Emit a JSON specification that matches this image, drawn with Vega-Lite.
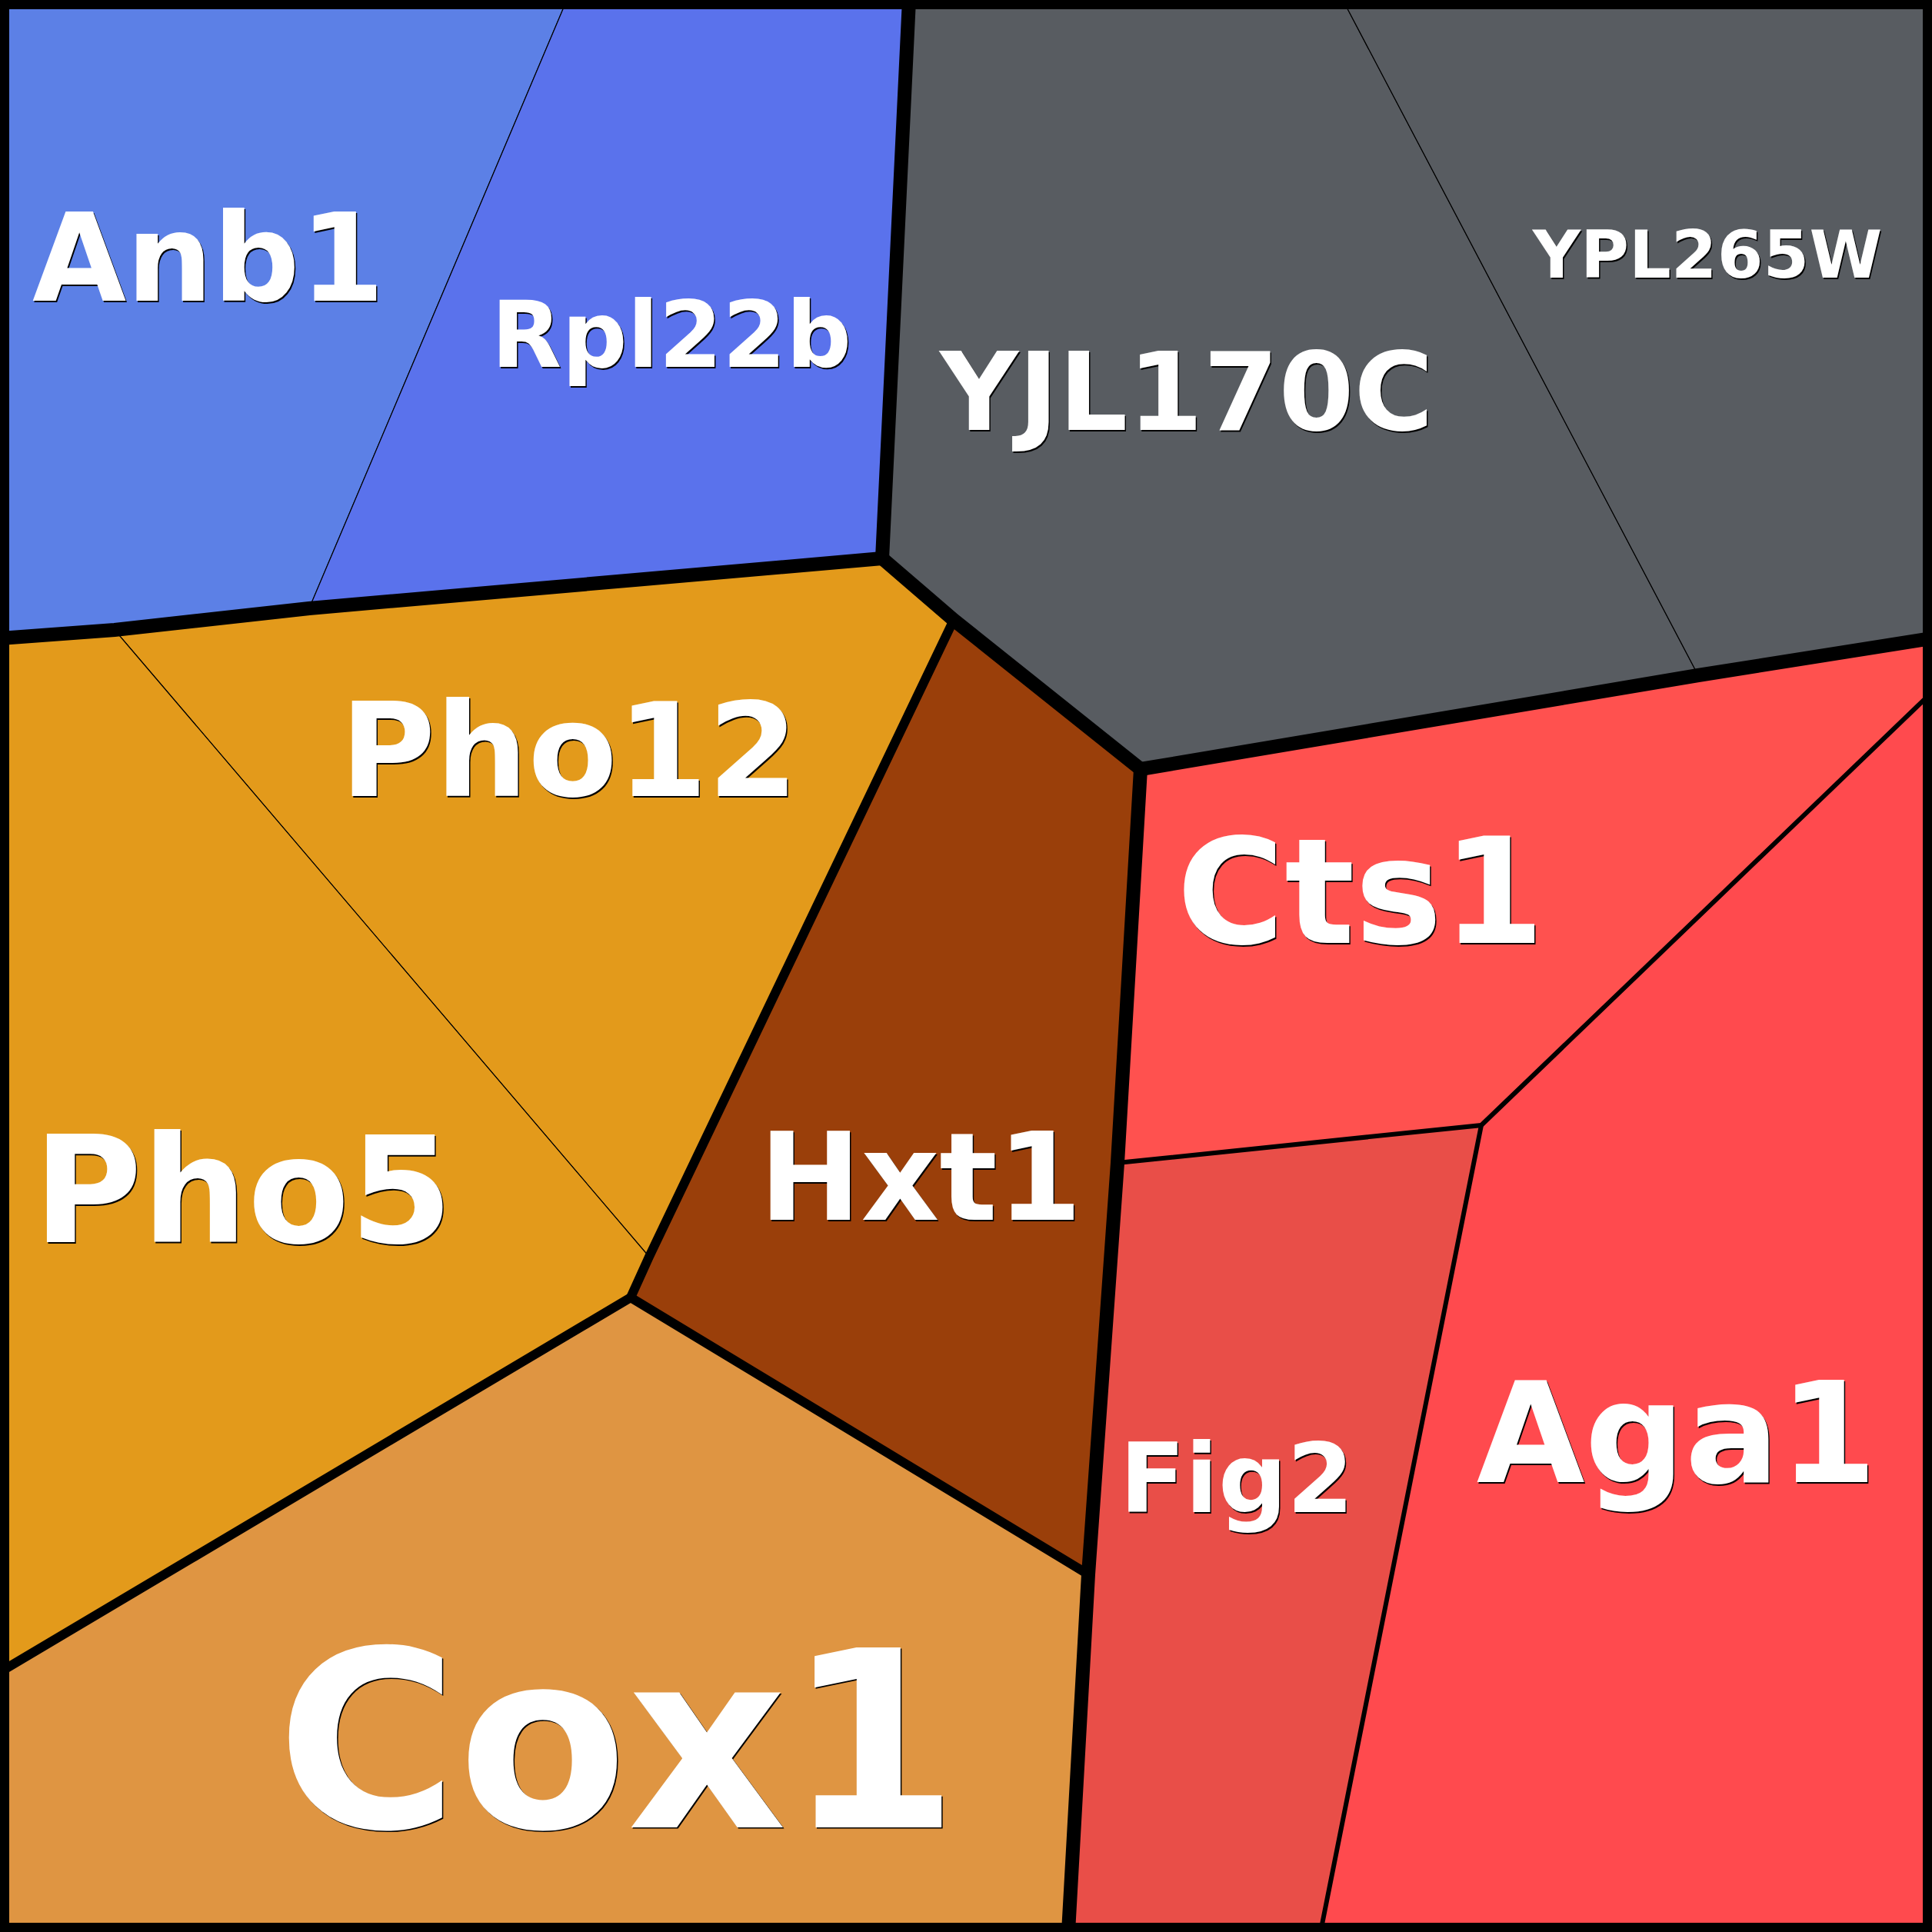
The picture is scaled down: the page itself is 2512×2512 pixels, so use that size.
{
  "$schema": "https://vega.github.io/schema/vega-lite/v6.json",
  "width": 2512,
  "height": 2512,
  "padding": 0,
  "autosize": {"type": "none"},
  "background": "white",
  "config": {"view": {"stroke": null}},
  "datasets": {
    "cells": [
      {"cell":"Anb1","i":0,"x":0,"y":0},{"cell":"Anb1","i":1,"x":737,"y":0},{"cell":"Anb1","i":2,"x":402,"y":791},{"cell":"Anb1","i":3,"x":149,"y":819},{"cell":"Anb1","i":4,"x":0,"y":830},
      {"cell":"Rpl22b","i":0,"x":737,"y":0},{"cell":"Rpl22b","i":1,"x":1182,"y":0},{"cell":"Rpl22b","i":2,"x":1147,"y":726},{"cell":"Rpl22b","i":3,"x":402,"y":791},
      {"cell":"YJL170C","i":0,"x":1182,"y":0},{"cell":"YJL170C","i":1,"x":1746,"y":0},{"cell":"YJL170C","i":2,"x":2208,"y":878},{"cell":"YJL170C","i":3,"x":1483,"y":1000},{"cell":"YJL170C","i":4,"x":1240,"y":806},{"cell":"YJL170C","i":5,"x":1147,"y":726},
      {"cell":"YPL265W","i":0,"x":1746,"y":0},{"cell":"YPL265W","i":1,"x":2512,"y":0},{"cell":"YPL265W","i":2,"x":2512,"y":830},{"cell":"YPL265W","i":3,"x":2208,"y":878},
      {"cell":"Pho12","i":0,"x":149,"y":819},{"cell":"Pho12","i":1,"x":402,"y":791},{"cell":"Pho12","i":2,"x":1147,"y":726},{"cell":"Pho12","i":3,"x":1240,"y":806},{"cell":"Pho12","i":4,"x":844,"y":1634},
      {"cell":"Pho5","i":0,"x":0,"y":830},{"cell":"Pho5","i":1,"x":149,"y":819},{"cell":"Pho5","i":2,"x":844,"y":1634},{"cell":"Pho5","i":3,"x":820,"y":1687},{"cell":"Pho5","i":4,"x":0,"y":2174},
      {"cell":"Hxt1","i":0,"x":1240,"y":806},{"cell":"Hxt1","i":1,"x":1483,"y":1000},{"cell":"Hxt1","i":2,"x":1453,"y":1512},{"cell":"Hxt1","i":3,"x":1415,"y":2047},{"cell":"Hxt1","i":4,"x":820,"y":1687},{"cell":"Hxt1","i":5,"x":844,"y":1634},
      {"cell":"Cox1","i":0,"x":0,"y":2174},{"cell":"Cox1","i":1,"x":820,"y":1687},{"cell":"Cox1","i":2,"x":1415,"y":2047},{"cell":"Cox1","i":3,"x":1389,"y":2512},{"cell":"Cox1","i":4,"x":0,"y":2512},
      {"cell":"Cts1","i":0,"x":1483,"y":1000},{"cell":"Cts1","i":1,"x":2208,"y":878},{"cell":"Cts1","i":2,"x":2512,"y":830},{"cell":"Cts1","i":3,"x":2512,"y":900},{"cell":"Cts1","i":4,"x":1926,"y":1463},{"cell":"Cts1","i":5,"x":1453,"y":1512},
      {"cell":"Fig2","i":0,"x":1453,"y":1512},{"cell":"Fig2","i":1,"x":1926,"y":1463},{"cell":"Fig2","i":2,"x":1717,"y":2512},{"cell":"Fig2","i":3,"x":1389,"y":2512},{"cell":"Fig2","i":4,"x":1415,"y":2047},
      {"cell":"Aga1","i":0,"x":1926,"y":1463},{"cell":"Aga1","i":1,"x":2512,"y":900},{"cell":"Aga1","i":2,"x":2512,"y":2512},{"cell":"Aga1","i":3,"x":1717,"y":2512}
    ],
    "edges": [
      {"edge":"e1","level":"major","i":0,"x":0,"y":830},{"edge":"e1","level":"major","i":1,"x":149,"y":819},{"edge":"e1","level":"major","i":2,"x":402,"y":791},{"edge":"e1","level":"major","i":3,"x":1147,"y":726},
      {"edge":"e2","level":"major","i":0,"x":1182,"y":0},{"edge":"e2","level":"major","i":1,"x":1147,"y":726},
      {"edge":"e3","level":"major","i":0,"x":1147,"y":726},{"edge":"e3","level":"major","i":1,"x":1240,"y":806},{"edge":"e3","level":"major","i":2,"x":1483,"y":1000},
      {"edge":"e4","level":"major","i":0,"x":1483,"y":1000},{"edge":"e4","level":"major","i":1,"x":2208,"y":878},{"edge":"e4","level":"major","i":2,"x":2512,"y":830},
      {"edge":"e5","level":"major","i":0,"x":1483,"y":1000},{"edge":"e5","level":"major","i":1,"x":1453,"y":1512},{"edge":"e5","level":"major","i":2,"x":1415,"y":2047},{"edge":"e5","level":"major","i":3,"x":1389,"y":2512},
      {"edge":"e6","level":"minor","i":0,"x":1240,"y":806},{"edge":"e6","level":"minor","i":1,"x":844,"y":1634},{"edge":"e6","level":"minor","i":2,"x":820,"y":1687},
      {"edge":"e7","level":"minor","i":0,"x":0,"y":2174},{"edge":"e7","level":"minor","i":1,"x":820,"y":1687},{"edge":"e7","level":"minor","i":2,"x":1415,"y":2047},
      {"edge":"e8","level":"sub","i":0,"x":1453,"y":1512},{"edge":"e8","level":"sub","i":1,"x":1926,"y":1463},{"edge":"e8","level":"sub","i":2,"x":2512,"y":900},
      {"edge":"e9","level":"sub","i":0,"x":1926,"y":1463},{"edge":"e9","level":"sub","i":1,"x":1717,"y":2512},
      {"edge":"b","level":"border","i":0,"x":0,"y":0},{"edge":"b","level":"border","i":1,"x":2512,"y":0},{"edge":"b","level":"border","i":2,"x":2512,"y":2512},{"edge":"b","level":"border","i":3,"x":0,"y":2512},{"edge":"b","level":"border","i":4,"x":0,"y":0}
    ],
    "labels": [
      {"cell":"Anb1","x":271,"y":391,"w":158},
      {"cell":"Rpl22b","x":873,"y":477,"w":119},
      {"cell":"YJL170C","x":1543,"y":559,"w":141},
      {"cell":"YPL265W","x":2220,"y":361,"w":86},
      {"cell":"Pho12","x":740,"y":1035,"w":169},
      {"cell":"Pho5","x":316,"y":1615,"w":193},
      {"cell":"Hxt1","x":1197,"y":1586,"w":158},
      {"cell":"Cox1","x":803,"y":2376,"w":321},
      {"cell":"Cts1","x":1769,"y":1226,"w":191},
      {"cell":"Fig2","x":1608,"y":1966,"w":125},
      {"cell":"Aga1","x":2180,"y":1927,"w":182}
    ]
  },
  "encoding": {
    "x": {"field": "x", "type": "quantitative", "scale": {"domain": [0, 2512], "nice": false, "zero": false}, "axis": null},
    "y": {"field": "y", "type": "quantitative", "scale": {"domain": [0, 2512], "nice": false, "zero": false, "reverse": true}, "axis": null}
  },
  "layer": [
    {
      "data": {"name": "cells"},
      "mark": {"type": "line", "interpolate": "linear-closed", "stroke": "black", "strokeWidth": 1.2},
      "encoding": {
        "detail": {"field": "cell"},
        "order": {"field": "i", "type": "quantitative"},
        "fill": {
          "field": "cell", "type": "nominal", "legend": null,
          "scale": {
            "domain": ["Anb1","Rpl22b","YJL170C","YPL265W","Pho12","Pho5","Hxt1","Cox1","Cts1","Fig2","Aga1"],
            "range": ["#5c80e6","#5a72ec","#585c61","#585c61","#e39a1b","#e39a1b","#9a3f0a","#df9542","#ff514f","#e94e48","#ff4a4e"]
          }
        }
      }
    },
    {
      "data": {"name": "edges"},
      "mark": {"type": "line", "stroke": "black", "strokeCap": "round", "strokeJoin": "miter"},
      "encoding": {
        "detail": {"field": "edge"},
        "order": {"field": "i", "type": "quantitative"},
        "strokeWidth": {"field": "level", "type": "nominal", "legend": null, "scale": {"domain": ["border","major","minor","sub"], "range": [24, 6, 3.5, 2]}}
      }
    },
    {
      "data": {"name": "labels"},
      "mark": {"type": "text", "align": "center", "baseline": "alphabetic", "font": "DejaVu Sans", "fontWeight": "bold", "fill": "black", "dx": 1.5, "dy": 1.5},
      "encoding": {
        "text": {"field": "cell"},
        "size": {"field": "w", "type": "quantitative", "legend": null, "scale": {"type": "linear", "domain": [0, 100], "range": [0, 100]}}
      }
    },
    {
      "data": {"name": "labels"},
      "mark": {"type": "text", "align": "center", "baseline": "alphabetic", "font": "DejaVu Sans", "fontWeight": "bold", "fill": "white"},
      "encoding": {
        "text": {"field": "cell"},
        "size": {"field": "w", "type": "quantitative", "legend": null, "scale": {"type": "linear", "domain": [0, 100], "range": [0, 100]}}
      }
    }
  ]
}
